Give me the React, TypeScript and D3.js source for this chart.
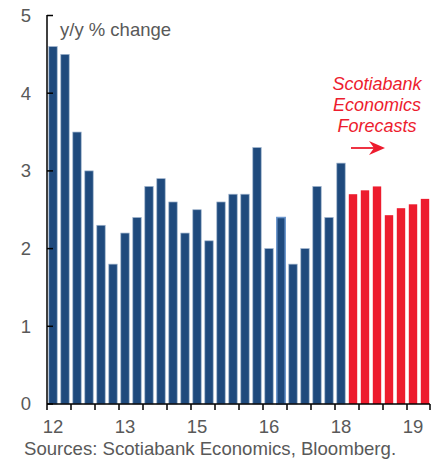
import React from "react";
import * as d3 from "d3";

const actualValues = [4.6, 4.5, 3.5, 3.0, 2.3, 1.8, 2.2, 2.4, 2.8, 2.9, 2.6, 2.2, 2.5, 2.1, 2.6, 2.7, 2.7, 3.3, 2.0, 2.4, 1.8, 2.0, 2.8, 2.4, 3.1];
const forecastValues = [2.7, 2.75, 2.8, 2.43, 2.52, 2.57, 2.64];
const xTickLabels = ["12", "13", "15", "16", "18", "19"];
const labelEvery = 6;
const yTicks = [0, 1, 2, 3, 4, 5];
const highlightedIndex = 19;

const W = 436;
const H = 461;
const left = 47;
const right = 431;
const top = 15.5;
const bottom = 404;

const BLUE = "#1f4a7d";
const RED = "#ed1c2e";
const GREY = "#595959";
const FONT = "'Liberation Sans', Arial, sans-serif";

export default function App() {
  const all = [
    ...actualValues.map((v) => ({ v, f: false })),
    ...forecastValues.map((v) => ({ v, f: true })),
  ];
  const x = d3
    .scaleBand<number>()
    .domain(all.map((_, i) => i))
    .range([left, right])
    .paddingInner(0.3)
    .paddingOuter(0.15);
  const y = d3.scaleLinear().domain([0, 5]).range([bottom, top]);
  const step = x.step();
  const gap = (step - x.bandwidth()) / 2;
  const tickXs: number[] = [];
  for (let i = 0; i < all.length; i += 2) tickXs.push((x(i) as number) - gap);
  tickXs.push(right - 1);

  return (
    <svg width={W} height={H} style={{ position: "absolute", left: 0, top: 0 }} fontFamily={FONT}>
      <rect width={W} height={H} fill="#fff" />
      {all.map((d, i) => (
        <rect
          key={i}
          x={x(i)}
          y={y(d.v)}
          width={x.bandwidth()}
          height={bottom - y(d.v)}
          fill={d.f ? RED : BLUE}
          stroke={d.f ? "none" : i === highlightedIndex ? "#6a95cc" : "#9db2cc"}
          strokeWidth={d.f ? 0 : i === highlightedIndex ? 1.5 : 0.7}
        />
      ))}
      {/* y axis */}
      <line x1={left} x2={left} y1={top - 0.5} y2={bottom} stroke="#000" strokeWidth={1.5} />
      {yTicks.map((t) => (
        <g key={t}>
          <line x1={left} x2={left + 6} y1={y(t)} y2={y(t)} stroke="#000" strokeWidth={1.5} />
          <text x={31} y={y(t)} dy="0.35em" textAnchor="end" fontSize={18.5} fill={GREY}>
            {t}
          </text>
        </g>
      ))}
      {/* x axis */}
      <line x1={left} x2={right - 1} y1={bottom} y2={bottom} stroke="#000" strokeWidth={1.5} />
      {tickXs.map((tx, i) => (
        <line key={i} x1={tx} x2={tx} y1={bottom} y2={bottom + 6} stroke="#000" strokeWidth={1.5} />
      ))}
      {xTickLabels.map((lab, k) => {
        const i = k * labelEvery;
        return (
          <text key={lab} x={(x(i) as number) + x.bandwidth() / 2} y={433} textAnchor="middle" fontSize={18.5} fill={GREY}>
            {lab}
          </text>
        );
      })}
      <text x={60} y={36} fontSize={18.5} fill={GREY}>
        y/y % change
      </text>
      <g fill={RED} fontSize={18} fontStyle="italic" textAnchor="middle">
        <text x={377} y={90}>Scotiabank</text>
        <text x={377} y={111}>Economics</text>
        <text x={377} y={132}>Forecasts</text>
      </g>
      <line x1={351} x2={376} y1={148} y2={148} stroke={RED} strokeWidth={1.8} />
      <path d="M385,148 L369,141 L374,148 L369,155 Z" fill={RED} />
      <text x={24} y={455} fontSize={18.6} fill={GREY}>
        Sources: Scotiabank Economics, Bloomberg.
      </text>
    </svg>
  );
}
